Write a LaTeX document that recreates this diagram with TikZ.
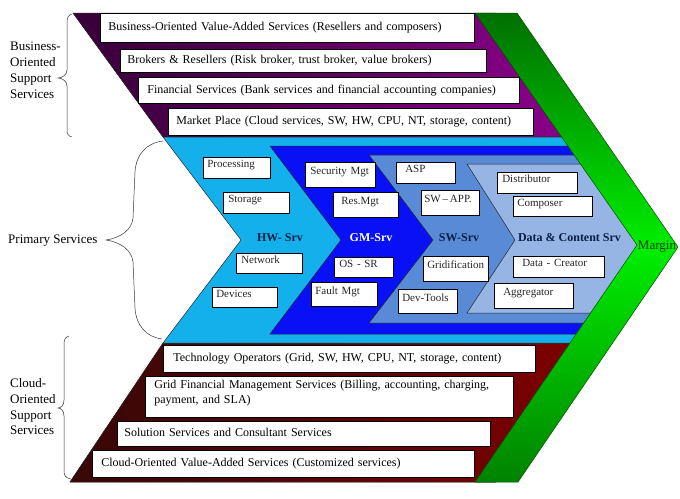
\documentclass[tikz,border=0pt]{standalone}
\usepackage{fontspec}
\setmainfont{Liberation Serif}
\definecolor{lblue}{RGB}{20,176,236}
\definecolor{dblue}{RGB}{8,16,245}
\definecolor{mblue}{RGB}{88,138,214}
\definecolor{sblue}{RGB}{150,180,228}
\definecolor{navy}{RGB}{10,30,70}
\definecolor{gdark}{RGB}{0,112,0}
\definecolor{gbright}{RGB}{0,238,0}
\definecolor{gbot}{RGB}{0,130,0}
\definecolor{pdark}{RGB}{55,0,55}
\definecolor{plight}{RGB}{140,0,140}
\definecolor{rdark}{RGB}{55,8,8}
\definecolor{rlight}{RGB}{128,0,0}
\definecolor{margintext}{RGB}{20,60,0}
\newcommand\tb[7]{\node[tbox, minimum width=#4, minimum height=#5, text width=#6pt, inner xsep=#7pt] at (#2,#3) (#1)}
\newcommand\ib[8]{\node[ibox, minimum width=#4, minimum height=#5, text width=#6pt, inner xsep=#7pt] (#1) at (#2,#3) {#8};}
\begin{document}
\begin{tikzpicture}[x=1pt,y=-1pt,
  band/.style={draw=black!85, line width=0.5pt},
  tbox/.style={draw=black, fill=white, line width=0.7pt, anchor=north west, align=left, inner ysep=0pt, font=\fontsize{12}{15}\selectfont, text height=8.5pt, text depth=2.5pt},
  tbox2/.style={draw=black, fill=white, line width=0.7pt, anchor=north west, align=left, inner ysep=0pt, font=\fontsize{12}{15}\selectfont},
  ibox/.style={draw=black, fill=white, line width=0.6pt, anchor=north west, align=left, inner ysep=0pt, font=\fontsize{11}{13}\selectfont, text=black!85, text height=7pt, text depth=7pt},
  srv/.style={font=\bfseries\fontsize{12}{14}\selectfont, text=navy, anchor=base, inner sep=0pt},
  side/.style={font=\fontsize{13}{16}\selectfont, align=left, inner sep=0pt},
  brace/.style={draw=black!80, line width=0.5pt},
]
\useasboundingbox (0,0) rectangle (680,498);
% bands
\fill[left color=pdark, right color=plight] (73,13) -- (496,13) -- (582,137) -- (163,137) -- cycle;
\draw[band] (73,13) -- (496,13) -- (582,137) -- (163,137) -- cycle;
\fill[left color=rdark, right color=rlight] (163,343) -- (592,343) -- (496,482) -- (70,482) -- cycle;
\draw[band] (163,343) -- (592,343) -- (496,482) -- (70,482) -- cycle;
% chevrons
\draw[band, fill=lblue] (163,137) -- (582,137) -- (658,246) -- (592,343) -- (163,343) -- (241,240) -- cycle;
\draw[band, fill=dblue] (270,146) -- (589,146) -- (658,246) -- (598,334) -- (270,334) -- (341,240) -- cycle;
\draw[band, fill=mblue] (369,155) -- (595,155) -- (658,246) -- (606,323) -- (369,323) -- (433,240) -- cycle;
\draw[band, fill=sblue] (467,164) -- (601,164) -- (658,246) -- (613,313) -- (467,313) -- (515,240) -- cycle;
% green margin
\shade[top color=gdark, bottom color=gbot, middle color=gbright] (475,13) -- (517,13) -- (678,247) -- (518,482) -- (475,482) -- (637,245) -- cycle;
\draw[draw=black!70!green, line width=0.5pt] (475,13) -- (517,13) -- (678,247) -- (518,482) -- (475,482) -- (637,245) -- cycle;
% top boxes
\tb{t1}{100}{13}{374}{29}{358}{8} {Business-Oriented Value-Added Services (Resellers and composers)};
\tb{t2}{120}{49}{366}{23}{352}{7} {Brokers \& Resellers (Risk broker, trust broker, value brokers)};
\tb{t3}{138}{77}{381}{26}{363}{9} {Financial Services (Bank services and financial accounting companies)};
\tb{t4}{168}{108}{365}{27}{349}{8} {Market Place (Cloud services, SW, HW, CPU, NT, storage, content)};
% bottom boxes
\tb{b1}{163}{345}{372}{27}{352}{10} {Technology Operators (Grid, SW, HW, CPU, NT, storage, content)};
\node[tbox2, minimum width=368, minimum height=41, text width=350pt, inner xsep=9pt] (b2) at (145,376) {Grid Financial Management Services (Billing, accounting, charging,\\ payment, and SLA)\rule[-10pt]{0pt}{1pt}};
\tb{b3}{117}{421}{373}{25}{359}{7} {Solution Services and Consultant Services};
\tb{b4}{92}{450}{382}{27}{364}{9} {Cloud-Oriented Value-Added Services (Customized services)};
% inner boxes
\ib{proc}{203}{157}{67}{21}{59}{4}{Processing}
\ib{stor}{223}{192}{66}{21}{56}{5}{Storage}
\ib{netw}{236}{253}{66}{20}{56}{5}{Network}
\ib{dev}{212}{287}{65}{20}{57}{4}{Devices}
\ib{sec}{305}{162}{70}{25}{60}{5}{Security Mgt}
\ib{res}{333}{192}{65}{25}{49}{8}{Res.Mgt}
\ib{ossr}{334}{257}{59}{20}{49}{5}{OS - SR}
\ib{fault}{311}{282}{66}{24}{58}{4}{Fault Mgt}
\ib{asp}{396}{162}{59}{21}{41}{9}{ASP}
\ib{swapp}{421}{190}{58}{25}{52}{3}{SW\,–\,APP.}
\ib{grid}{423}{256}{65}{25}{57}{4}{Gridification}
\ib{devt}{398}{289}{59}{24}{51}{4}{Dev-Tools}
\ib{dist}{497}{172}{80}{21}{70}{5}{Distributor}
\ib{comp}{513}{196}{79}{20}{71}{4}{Composer}
\ib{crea}{513}{256}{91}{21}{73}{9}{Data - Creator}
\ib{aggr}{494}{283}{79}{25}{61}{9}{Aggregator}
% service labels
\node[srv] (hw) at (280,241) {HW- Srv};
\node[srv, text=white] (gm) at (371,241) {GM-Srv};
\node[srv] (sw) at (459,241) {SW-Srv};
\node[srv] (dc) at (569.5,241) {Data \& Content Srv};
\node[font=\fontsize{13}{15}\selectfont, text=margintext, anchor=base, inner sep=0pt] (mg) at (657,249) {Margin};
% side labels
\node[side, anchor=north west] (bos) at (10,41.5) {Business-\\Oriented\\Support\\Services};
\node[side, anchor=base west] (ps) at (8,243) {Primary Services};
\node[side, anchor=north west, font=\fontsize{13}{15.7}\selectfont] (cos) at (10,378.5) {Cloud-\\Oriented\\Support\\Services};
% braces
\draw[brace] (72,14) .. controls (68,15) and (67,18) .. (67,23) -- (67,70) .. controls (67,75) and (62,78) .. (58,78) .. controls (62,78) and (67,81) .. (67,86) -- (67,130) .. controls (67,134) and (68,136) .. (72,137);
\draw[brace] (163,141) .. controls (146,143) and (136,155) .. (135,172) -- (133,218) .. controls (132,230) and (120,238) .. (106,240) .. controls (120,242) and (132,250) .. (133,262) -- (135,308) .. controls (136,325) and (146,337) .. (162,339);
\draw[brace] (69,336) .. controls (65,337) and (64,340) .. (64,345) -- (64,400) .. controls (64,405) and (61,408) .. (58,408) .. controls (61,408) and (64,411) .. (64,416) -- (64,471) .. controls (64,476) and (66,478) .. (71,479);
\end{tikzpicture}
\end{document}
